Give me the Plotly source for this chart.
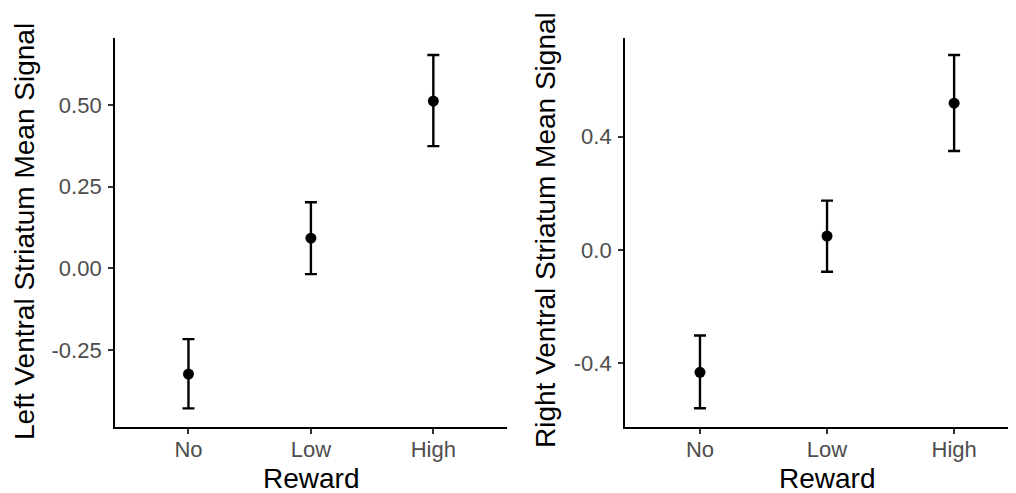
import plotly.graph_objects as go

categories = ["No", "Low", "High"]

left_mean = [-0.324, 0.092, 0.512]
left_upper = [-0.217, 0.202, 0.653]
left_lower = [-0.429, -0.018, 0.374]

right_mean = [-0.432, 0.049, 0.518]
right_upper = [-0.302, 0.174, 0.688]
right_lower = [-0.559, -0.077, 0.349]

left_ticks = [-0.25, 0.0, 0.25, 0.5]
left_ticktext = ["-0.25", "0.00", "0.25", "0.50"]
right_ticks = [-0.4, 0.0, 0.4]
right_ticktext = ["-0.4", "0.0", "0.4"]

# page body has an 8px margin: figure drawn at (8, 8) in the window
OFF = 8
W, H = 1016 - OFF, 493 - OFF
FONT = "Liberation Sans, Arial, Helvetica, sans-serif"


def fx(x):
    return (x - OFF) / W


def fy(y):
    return (H - (y - OFF)) / H


def trace(mean, upper, lower, xa, ya):
    return go.Scatter(
        x=categories, y=mean, mode="markers", xaxis=xa, yaxis=ya,
        marker=dict(color="black", size=11),
        error_y=dict(type="data", symmetric=False,
                     array=[u - m for u, m in zip(upper, mean)],
                     arrayminus=[m - l for m, l in zip(mean, lower)],
                     color="black", thickness=2.4, width=6),
        showlegend=False, hoverinfo="skip",
    )


fig = go.Figure()
fig.add_trace(trace(left_mean, left_upper, left_lower, "x", "y"))
fig.add_trace(trace(right_mean, right_upper, right_lower, "x2", "y2"))

ytop, ybot = 38, 426.7
ydom = [fy(ybot), fy(ytop)]

axis_common = dict(showline=True, linecolor="black", linewidth=1.8,
                   ticks="outside", ticklen=5, tickwidth=1.8, tickcolor="#333333",
                   showgrid=False, zeroline=False,
                   tickfont=dict(family=FONT, size=22, color="#4d4d4d"))

fig.update_layout(
    width=W, height=H,
    margin=dict(l=0, r=0, t=0, b=0),
    paper_bgcolor="white", plot_bgcolor="white",
    font=dict(family=FONT, color="black"),
    xaxis=dict(domain=[fx(115), fx(506.8)], range=[-0.6, 2.6], anchor="y",
               type="category", ticklabelstandoff=-3, **axis_common),
    yaxis=dict(domain=ydom, range=[-0.485, 0.705], anchor="x",
               tickvals=left_ticks, ticktext=left_ticktext,
               ticklabelstandoff=2, **axis_common),
    xaxis2=dict(domain=[fx(625), 1.0], range=[-0.59, 2.487], anchor="y2",
                type="category", ticklabelstandoff=-3, **axis_common),
    yaxis2=dict(domain=ydom, range=[-0.624, 0.748], anchor="x2",
                tickvals=right_ticks, ticktext=right_ticktext,
                ticklabelstandoff=2, **axis_common),
)

ann = [
    dict(text="Left Ventral Striatum Mean Signal", x=fx(24), y=fy(232),
         textangle=-90),
    dict(text="Right Ventral Striatum Mean Signal", x=fx(545), y=fy(230),
         textangle=-90),
    dict(text="Reward", x=fx(311), y=fy(478)),
    dict(text="Reward", x=fx(827), y=fy(478)),
]
for a in ann:
    fig.add_annotation(xref="paper", yref="paper", showarrow=False,
                       xanchor="center", yanchor="middle",
                       font=dict(family=FONT, size=28, color="black"), **a)

fig.write_html("out.html")
